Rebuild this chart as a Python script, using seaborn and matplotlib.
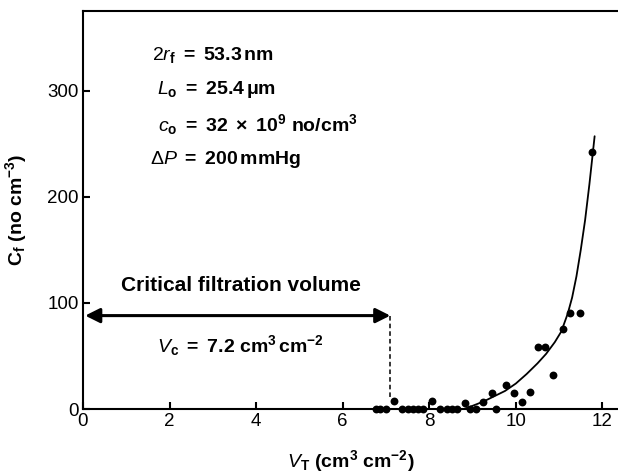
import matplotlib
matplotlib.use("Agg")
import matplotlib.pyplot as plt
import seaborn as sns
import pandas as pd

# data
baseline_x = [6.77, 6.87, 7.0, 7.38, 7.51, 7.63, 7.74, 7.86, 8.24, 8.40, 8.53, 8.64, 8.94, 9.09, 9.55]
raised_x = [7.18, 8.07, 8.82, 9.25, 9.44, 9.78, 9.96, 10.15, 10.32, 10.51, 10.67, 10.85, 11.08, 11.26, 11.48, 11.75]
raised_y = [8, 8, 6, 7, 15, 23, 15, 7, 16, 58, 58, 32, 75, 90, 90, 242]
fit_x = [8.8, 9.0, 9.25, 9.5, 9.75, 10.0, 10.25, 10.5, 10.7, 10.9, 11.05, 11.2, 11.3, 11.4, 11.5, 11.6, 11.7, 11.82]
fit_y = [0, 3, 7, 12, 17, 24, 33, 43, 52, 63, 73, 90, 105, 125, 150, 178, 212, 257]
x_ticks = [0, 2, 4, 6, 8, 10, 12]
y_ticks = [0, 100, 200, 300]
vc = 7.1
arrow_y = 88

pts = pd.DataFrame({"x": baseline_x + raised_x,
                    "y": [0] * len(baseline_x) + raised_y})
fit = pd.DataFrame({"x": fit_x, "y": fit_y})

sns.set_style("ticks")
plt.rcParams['font.family'] = ['Liberation Sans', 'DejaVu Sans']
plt.rcParams['mathtext.fontset'] = 'custom'
plt.rcParams['mathtext.rm'] = 'Liberation Sans'
plt.rcParams['mathtext.it'] = 'Liberation Sans:italic'
plt.rcParams['mathtext.bf'] = 'Liberation Sans:bold'
plt.rcParams['text.color'] = 'black'
plt.rcParams['axes.labelcolor'] = 'black'
plt.rcParams['xtick.color'] = 'black'
plt.rcParams['ytick.color'] = 'black'

fig = plt.figure(figsize=(6.18, 4.73), dpi=100)
ax = fig.add_axes([83 / 618, 1 - 409 / 473, 1 - 83 / 618, (409 - 11) / 473])

sns.lineplot(data=fit, x="x", y="y", ax=ax, color="black", lw=1.3, sort=False)
sns.scatterplot(data=pts, x="x", y="y", ax=ax, color="black", s=32, edgecolor="black", linewidth=0, zorder=5, clip_on=False)

ax.set_xlim(0, 12.36)
ax.set_ylim(0, 375)
ax.set_xticks(x_ticks)
ax.set_yticks(y_ticks)
ax.tick_params(direction="in", length=5, width=1.5, labelsize=13.5, colors="black", pad=3)
for s in ["left", "bottom", "top"]:
    ax.spines[s].set_linewidth(1.5)
    ax.spines[s].set_color("black")
ax.spines["right"].set_visible(False)

ax.set_xlabel(r"$\mathit{V}_{\mathbf{T}}$ (cm$^{\mathbf{3}}$ cm$^{\mathbf{-2}}$)", fontsize=14, fontweight="bold", labelpad=13)
ax.set_ylabel(r"C$_{\mathbf{f}}$ (no cm$^{\mathbf{-3}}$)", fontsize=14, fontweight="bold", labelpad=13)

# parameter text
tk = dict(fontsize=14, ha="left", va="center", color="black")
ax.text(1.6, 334, r"2$\mathit{r}_{\mathbf{f}}\ \mathbf{=\ 53.3\,nm}$", **tk)
ax.text(1.7, 301, r"$\mathit{L}_{\mathbf{o}}\ \mathbf{=\ 25.4\,\mu m}$", **tk)
ax.text(1.73, 268, r"$\mathit{c}_{\mathbf{o}}\ \mathbf{=\ 32\ \times\ 10^9\ no/cm^3}$", **tk)
ax.text(1.55, 235, r"$\Delta\mathit{P}\ \mathbf{=\ 200\,mmHg}$", **tk)

# critical filtration volume annotation
ax.text(3.66, 116, "Critical filtration volume", fontsize=15, fontweight="bold", ha="center", va="center")
ax.annotate("", xy=(0.05, arrow_y), xytext=(vc, arrow_y),
            arrowprops=dict(arrowstyle="<|-|>", lw=2.2, color="black", mutation_scale=22, shrinkA=0, shrinkB=0))
ax.plot([vc, vc], [arrow_y, 9], ls=(0, (3, 2)), color="black", lw=1.1)
ax.text(3.63, 60, r"$\mathit{V}_{\mathbf{c}}\ \mathbf{=\ 7.2\ cm^3\,cm^{-2}}$", fontsize=14, ha="center", va="center")

fig.savefig("out.png", dpi=100)
